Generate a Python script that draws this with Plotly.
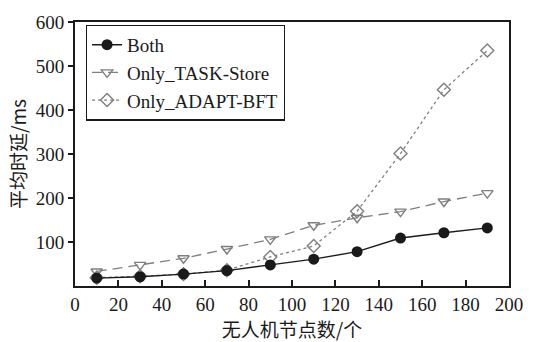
import plotly.graph_objects as go

# Number of UAV nodes
nodes = [10, 30, 50, 70, 90, 110, 130, 150, 170, 190]

# Average latency (ms) for each configuration
both = [18, 21, 27, 35, 48, 61, 78, 109, 121, 132]
only_task_store = [33, 48, 63, 84, 106, 138, 155, 169, 192, 211]
only_adapt_bft = [19, 22, 27, 36, 66, 91, 170, 301, 446, 535]

y_ticks = [100, 200, 300, 400, 500, 600]
x_ticks = [0, 20, 40, 60, 80, 100, 120, 140, 160, 180, 200]

GRAY = "#7f7f7f"
INK = "#1a1a1a"
SERIF = "Liberation Serif"
CJK = "Noto Sans CJK SC"

fig = go.Figure()

fig.add_trace(go.Scatter(
    x=nodes, y=only_task_store, name="Only_TASK-Store", mode="lines+markers",
    legendrank=2,
    line=dict(color=GRAY, width=1.3, dash="10px,6px"),
    marker=dict(symbol="triangle-down-open", size=10, color=GRAY, line=dict(width=1.4, color=GRAY)),
))
fig.add_trace(go.Scatter(
    x=nodes, y=only_adapt_bft, name="Only_ADAPT-BFT", mode="lines+markers",
    legendrank=3,
    line=dict(color=GRAY, width=1.3, dash="3px,3px"),
    marker=dict(symbol="diamond-open", size=10, color=GRAY, line=dict(width=1.4, color=GRAY)),
))
fig.add_trace(go.Scatter(
    x=nodes, y=both, name="Both", mode="lines+markers",
    legendrank=1,
    line=dict(color=INK, width=1.4),
    marker=dict(symbol="circle", size=11, color=INK),
))

fig.update_layout(
    width=535, height=342,
    margin=dict(l=75, r=22, t=15, b=50),
    paper_bgcolor="white", plot_bgcolor="white",
    font=dict(family=SERIF, size=19, color=INK),
    showlegend=True,
    legend=dict(
        x=0.025, y=0.99, xanchor="left", yanchor="top",
        bgcolor="white", bordercolor=INK, borderwidth=1.2,
        font=dict(family=SERIF, size=19, color=INK),
        tracegroupgap=0, itemwidth=30,
    ),
    xaxis=dict(
        range=[0, 200], tickvals=x_ticks, ticks="inside", ticklen=6, tickwidth=1.5,
        tickcolor=INK, showline=True, linecolor=INK, linewidth=2,
        mirror=True, showgrid=False, zeroline=False,
        tickfont=dict(family=SERIF, size=19),
        title=dict(text="无人机节点数/个", font=dict(family=CJK, size=19), standoff=2),
    ),
    yaxis=dict(
        range=[0, 600], tickvals=y_ticks, ticks="outside", ticklen=5, tickwidth=1.5,
        tickcolor=INK, showline=True, linecolor=INK, linewidth=2,
        mirror=True, showgrid=False, zeroline=False,
        tickfont=dict(family=SERIF, size=19),
        title=dict(text="平均时延/ms", font=dict(family=CJK, size=19), standoff=4),
    ),
)

fig.write_html("out.html")
